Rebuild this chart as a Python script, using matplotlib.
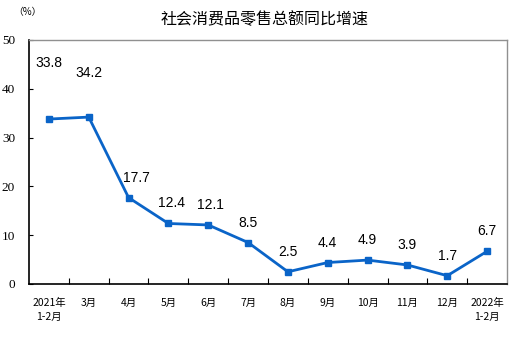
import numpy as np
import matplotlib.pyplot as plt

plt.rcParams['font.family'] = ['Noto Sans CJK SC', 'DejaVu Sans']

# data
months = ["2021年\n1-2月", "3月", "4月", "5月", "6月", "7月", "8月",
          "9月", "10月", "11月", "12月", "2022年\n1-2月"]
growth = [33.8, 34.2, 17.7, 12.4, 12.1, 8.5, 2.5, 4.4, 4.9, 3.9, 1.7, 6.7]
y_ticks = [0, 10, 20, 30, 40, 50]

# label offsets in pixels (dx, dy) from the point
label_dx = [0, 0, 8, 3, 2, 0, 0, 0, 0, 0, 0, 0]
label_dy = [56, 44] + [20] * 10

blue = "#0a64c8"

fig = plt.figure(figsize=(5.17, 3.37), dpi=100)
ax = fig.add_axes([29 / 517, 1 - 284 / 337, 478 / 517, 244 / 337])

x = np.arange(len(growth))
ax.plot(x, growth, color=blue, linewidth=2, marker='s', markersize=5,
        markerfacecolor=blue, markeredgecolor=blue)

for xi, v, dx, dy in zip(x, growth, label_dx, label_dy):
    ax.annotate(f"{v:.1f}", (xi, v), xytext=(dx * 0.72, dy * 0.72), textcoords='offset points',
                ha='center', va='center', fontsize=10, family='Liberation Sans')

ax.set_xlim(-0.5, len(growth) - 0.5)
ax.set_ylim(0, 50)
ax.set_yticks(y_ticks)
ax.set_yticklabels([str(t) for t in y_ticks], family='Liberation Serif', fontsize=9.5)

# ticks at category boundaries, labels at centers
ax.set_xticks(np.arange(0.5, len(growth) - 1, 1))
ax.set_xticklabels([])
ax.set_xticks(x, minor=True)
ax.set_xticklabels(months, minor=True, fontsize=7.5, linespacing=1.5)
ax.tick_params(axis='x', which='major', direction='in', length=4, width=0.8, color='black')
ax.tick_params(axis='x', which='minor', length=0, pad=10)
ax.tick_params(axis='y', direction='in', length=3, width=0.8, pad=10)

for side in ['left', 'bottom']:
    ax.spines[side].set_color('black')
    ax.spines[side].set_linewidth(1.2)
for side in ['top', 'right']:
    ax.spines[side].set_color('#909090')
    ax.spines[side].set_linewidth(1)

fig.text(265 / 517, 1 - 20 / 337, "社会消费品零售总额同比增速", ha='center', va='center', fontsize=11.5)
fig.text(27 / 517, 1 - 12 / 337, "（%）", ha='center', va='center', fontsize=7)

fig.savefig("out.png", dpi=100)
